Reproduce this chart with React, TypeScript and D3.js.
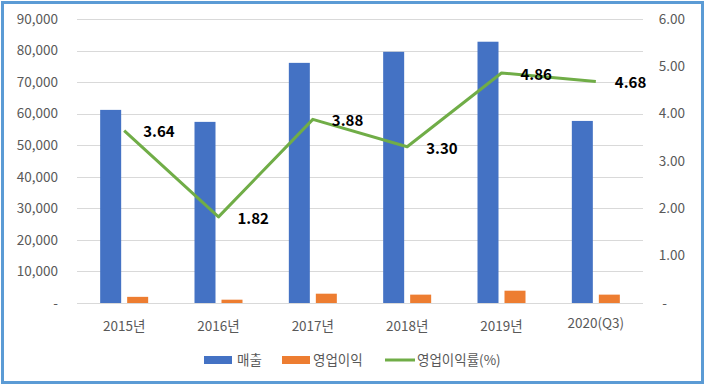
import React, { useEffect, useRef } from "react";
import * as d3 from "d3";

const years = ["2015년", "2016년", "2017년", "2018년", "2019년", "2020(Q3)"];
const sales = [61200, 57400, 76100, 79600, 82800, 57700];
const opProfit = [1950, 1050, 2950, 2650, 3900, 2650];
const opMargin = [3.64, 1.82, 3.88, 3.3, 4.86, 4.68];
const leftTicks = [0, 10000, 20000, 30000, 40000, 50000, 60000, 70000, 80000, 90000];
const rightTicks = [0, 1, 2, 3, 4, 5, 6];
const seriesNames = ["매출", "영업이익", "영업이익률(%)"];

const BLUE = "#4472C4";
const ORANGE = "#ED7D31";
const GREEN = "#70AD47";
const TEXT = "#595959";
const FONT = "'Noto Sans CJK KR', 'Noto Sans', sans-serif";

const App: React.FC = () => {
  const svgRef = useRef<SVGSVGElement>(null);

  useEffect(() => {
    if (!svgRef.current) return;
    const svg = d3.select(svgRef.current);
    svg.selectAll("*").remove();

    const left = 77;
    const right = 643;
    const top = 19;
    const bottom = 303;

    const x = d3.scaleBand<string>().domain(years).range([left, right]);
    const inner = d3
      .scaleBand<string>()
      .domain(["매출", "영업이익"])
      .range([0, 48])
      .paddingInner(6 / 27);
    const yL = d3.scaleLinear().domain([0, 90000]).range([bottom, top]);
    const yR = d3.scaleLinear().domain([0, 6]).range([bottom, top]);
    const cx = (d: string) => (x(d) as number) + x.bandwidth() / 2;

    // frame
    svg
      .append("rect")
      .attr("x", 2.5)
      .attr("y", 2.5)
      .attr("width", 700)
      .attr("height", 380)
      .attr("fill", "#fff")
      .attr("stroke", "#5B9BD5")
      .attr("stroke-width", 3);

    // gridlines
    svg
      .selectAll(".grid")
      .data(leftTicks)
      .enter()
      .append("line")
      .attr("x1", left)
      .attr("x2", right)
      .attr("y1", (d) => Math.round(yL(d)) + 0.5)
      .attr("y2", (d) => Math.round(yL(d)) + 0.5)
      .attr("stroke", "#D9D9D9")
      .attr("stroke-width", 1);

    // left axis labels
    const fmtL = d3.format(",");
    svg
      .selectAll(".yl")
      .data(leftTicks)
      .enter()
      .append("text")
      .attr("x", 58)
      .attr("y", (d) => yL(d))
      .attr("dy", "0.35em")
      .attr("text-anchor", "end")
      .attr("fill", TEXT)
      .attr("font-family", FONT)
      .attr("font-size", 13.5)
      .text((d) => (d === 0 ? "-" : fmtL(d)));

    // right axis labels
    svg
      .selectAll(".yr")
      .data(rightTicks)
      .enter()
      .append("text")
      .attr("x", (d) => (d === 0 ? 667 : 685))
      .attr("y", (d) => yR(d))
      .attr("dy", "0.35em")
      .attr("text-anchor", "end")
      .attr("fill", TEXT)
      .attr("font-family", FONT)
      .attr("font-size", 13.5)
      .text((d) => (d === 0 ? "-" : d3.format(".2f")(d)));

    // x labels
    svg
      .selectAll(".xl")
      .data(years)
      .enter()
      .append("text")
      .attr("x", (d) => cx(d))
      .attr("y", (d, i) => (i === years.length - 1 ? 323 : 326))
      .attr("dy", "0.35em")
      .attr("text-anchor", "middle")
      .attr("fill", TEXT)
      .attr("font-family", FONT)
      .attr("font-size", 13.5)
      .text((d) => d);

    // bars
    const bars = [
      { key: "매출", values: sales, color: BLUE },
      { key: "영업이익", values: opProfit, color: ORANGE },
    ];
    bars.forEach((s) => {
      svg
        .selectAll(`.bar-${s.key}`)
        .data(years)
        .enter()
        .append("rect")
        .attr("x", (d) => cx(d) - 24 + (inner(s.key) as number))
        .attr("y", (d, i) => yL(s.values[i]))
        .attr("width", inner.bandwidth())
        .attr("height", (d, i) => bottom - yL(s.values[i]))
        .attr("fill", s.color);
    });

    // margin line
    const line = d3
      .line<number>()
      .x((d, i) => cx(years[i]))
      .y((d) => yR(d));
    svg
      .append("path")
      .datum(opMargin)
      .attr("d", line)
      .attr("fill", "none")
      .attr("stroke", GREEN)
      .attr("stroke-width", 3)
      .attr("stroke-linejoin", "round");

    svg
      .selectAll(".lbl")
      .data(opMargin)
      .enter()
      .append("text")
      .attr("x", (d, i) => cx(years[i]) + 19)
      .attr("y", (d) => yR(d) + 1.5)
      .attr("dy", "0.35em")
      .attr("fill", "#000")
      .attr("font-family", FONT)
      .attr("font-weight", "bold")
      .attr("font-size", 15)
      .text((d) => d.toFixed(2));

    // legend
    const legend = svg.append("g").attr("font-family", FONT).attr("font-size", 13.5).attr("fill", TEXT);
    legend.append("rect").attr("x", 204).attr("y", 356).attr("width", 28).attr("height", 8).attr("fill", BLUE);
    legend.append("text").attr("x", 237).attr("y", 360).attr("dy", "0.35em").text(seriesNames[0]);
    legend.append("rect").attr("x", 282).attr("y", 356).attr("width", 28).attr("height", 8).attr("fill", ORANGE);
    legend.append("text").attr("x", 313).attr("y", 360).attr("dy", "0.35em").text(seriesNames[1]);
    legend
      .append("line")
      .attr("x1", 385)
      .attr("x2", 415)
      .attr("y1", 360)
      .attr("y2", 360)
      .attr("stroke", GREEN)
      .attr("stroke-width", 3);
    legend.append("text").attr("x", 417).attr("y", 360).attr("dy", "0.35em").text(seriesNames[2]);
  }, []);

  return (
    <svg
      ref={svgRef}
      width={707}
      height={386}
      style={{ position: "absolute", left: 0, top: 0, display: "block" }}
    />
  );
};

export default App;
